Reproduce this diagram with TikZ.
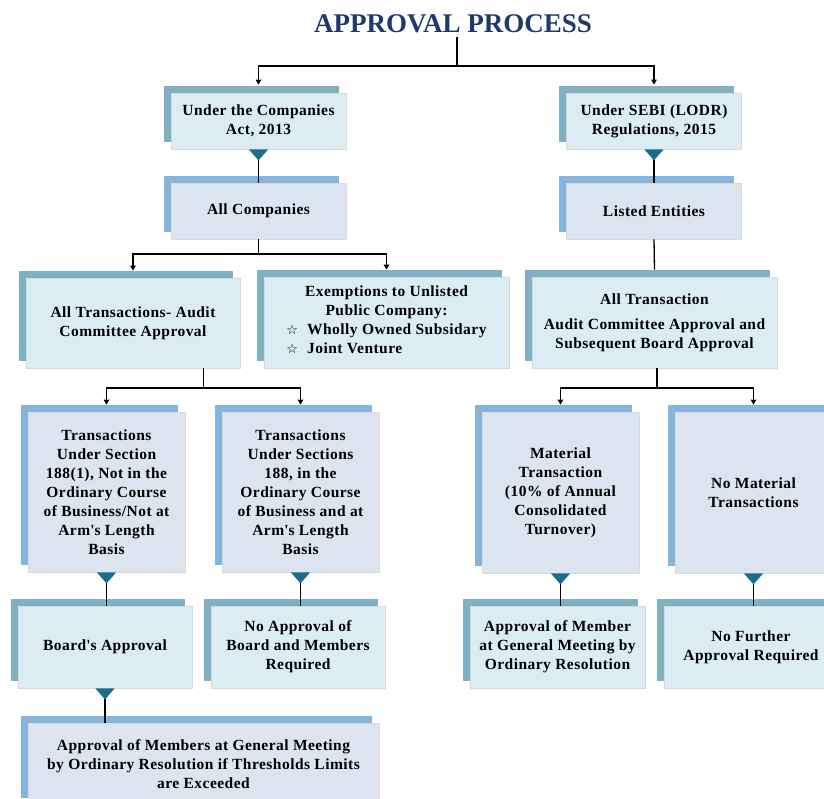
\documentclass[tikz,border=0pt]{standalone}
\usepackage{fontspec}
\setmainfont{Liberation Serif}
\newfontfamily\boxfont[LetterSpace=3]{Liberation Serif}
\newfontfamily\symfont{DejaVu Sans}
\usetikzlibrary{arrows.meta,shadows}
\definecolor{tealback}{RGB}{127,177,196}
\definecolor{tealfront}{RGB}{219,237,243}
\definecolor{blueback}{RGB}{131,181,221}
\definecolor{bluefront}{RGB}{220,228,240}
\definecolor{tricol}{RGB}{26,110,140}
\definecolor{titlecol}{RGB}{31,56,110}
\newcommand{\bulletstar}{{\symfont\fontsize{13}{13}\selectfont ☆}\hspace{9pt}}

\begin{document}
\begin{tikzpicture}[x=1pt,y=-1pt,
    every node/.style={font=\boxfont\bfseries\fontsize{15.5}{19}\selectfont,align=center,inner sep=0pt},
    dims/.style 2 args={minimum width=#1,minimum height=#2},
    cardA/.style={draw=black!15,line width=0.8pt,fill=tealfront,general shadow={fill=tealback,shadow xshift=-7.5pt,shadow yshift=7pt}},
    cardB/.style={draw=black!15,line width=0.8pt,fill=bluefront,general shadow={fill=blueback,shadow xshift=-7.5pt,shadow yshift=7pt}},
    plain/.style={line width=1.3pt},
    link/.style={plain,-{Triangle[length=5pt,width=5.5pt]}},
    drop/.style={plain,{Triangle[reversed,length=11pt,width=19pt,color=tricol]}-}]
        \useasboundingbox (0,0) rectangle (824,798);
        \node[font=\rmfamily\bfseries\fontsize{27}{30}\selectfont,text=titlecol,inner sep=4pt] (title) at (453,24) {APPROVAL PROCESS};
        \node[cardA,dims={175pt}{56pt}] (act) at (258.5,121) {Under the Companies\\Act, 2013};
        \node[cardA,dims={175pt}{56pt}] (sebi) at (654,121) {Under SEBI (LODR)\\Regulations, 2015};
        \node[cardB,dims={175pt}{56pt}] (allco) at (258.5,211) {All Companies};
        \node[cardB,dims={175pt}{56pt}] (listed) at (654,211) {Listed Entities};
        \node[cardA,dims={214pt}{90pt}] (alltr) at (133,323) {All Transactions- Audit\\Committee Approval};
        \node[cardA,dims={245pt}{91pt}] (exempt) at (386.5,322.5) {Exemptions to Unlisted\\Public Company:\\[2pt]
            \begin{tabular}{@{}l@{}}\bulletstar Wholly Owned Subsidary\\\bulletstar Joint Venture\end{tabular}};
        \node[cardA,dims={245pt}{91pt}] (allsebi) at (654.5,322.5) {All Transaction\\[6pt]Audit Committee Approval and\\Subsequent Board Approval};
        \node[cardB,dims={157pt}{160pt}] (secA) at (106.5,492) {Transactions\\Under Section\\188(1), Not in the\\Ordinary Course\\of Business/Not at\\Arm\textquotesingle s Length\\Basis};
        \node[cardB,dims={157pt}{160pt}] (secB) at (300.5,492) {Transactions\\Under Sections\\188, in the\\Ordinary Course\\of Business and at\\Arm\textquotesingle s Length\\Basis};
        \node[cardB,dims={157pt}{161pt}] (material) at (560.5,492.5) {Material\\Transaction\\(10\% of Annual\\Consolidated\\Turnover)};
        \node[cardB,dims={157pt}{161pt}] (nomat) at (753.5,492.5) {No Material\\Transactions};
        \node[cardA,dims={174pt}{82pt}] (board) at (105,647) {Board\textquotesingle s Approval};
        \node[cardA,dims={174pt}{82pt}] (noappr) at (298,647) {No Approval of\\Board and Members\\Required};
        \node[cardB,dims={351pt}{82pt}] (members) at (203.5,764) {Approval of Members at General Meeting\\by Ordinary Resolution if Thresholds Limits\\are Exceeded};
        \node[cardA,dims={175pt}{82pt}] (memres) at (557.5,647) {Approval of Member\\at General Meeting by\\Ordinary Resolution};
        \node[cardA,dims={174pt}{82pt}] (nofurther) at (751,647) {No Further\\Approval Required};
        \coordinate (topsplit) at (457,66);
        \coordinate (cosplit) at (258.5,254);
        \coordinate (trsplit) at (203.5,388);
        \coordinate (sbsplit) at (657,388);
        \draw[link] (title.south -| topsplit) -- (topsplit) -| ([yshift=8pt]act.north);
        \draw[link] (topsplit) -| ([yshift=8pt]sebi.north);
        \draw[drop] (act.south) -- (allco.north);
        \draw[drop] (sebi.south) -- (listed.north);
        \draw[link] (allco.south) -- (cosplit) -| ([yshift=7pt]alltr.north);
        \draw[link] (cosplit) -| ([yshift=7pt]exempt.north);
        \draw[plain] (listed.south) -- ([yshift=7pt]allsebi.north);
        \draw[plain] (alltr.south -| trsplit) -- (trsplit);
        \draw[link] (trsplit) -| ([yshift=7pt]secA.north);
        \draw[link] (trsplit) -| ([yshift=7pt]secB.north);
        \draw[plain] (allsebi.south -| sbsplit) -- (sbsplit);
        \draw[link] (sbsplit) -| ([yshift=7pt]material.north);
        \draw[link] (sbsplit) -| ([yshift=7pt]nomat.north);
        \draw[drop] (secA.south) -- (secA.south |- board.north);
        \draw[drop] (secB.south) -- (secB.south |- noappr.north);
        \draw[drop] (board.south) -- (board.south |- members.north);
        \draw[drop] (material.south) -- (material.south |- memres.north);
        \draw[drop] (nomat.south) -- (nomat.south |- nofurther.north);
\end{tikzpicture}
\end{document}
